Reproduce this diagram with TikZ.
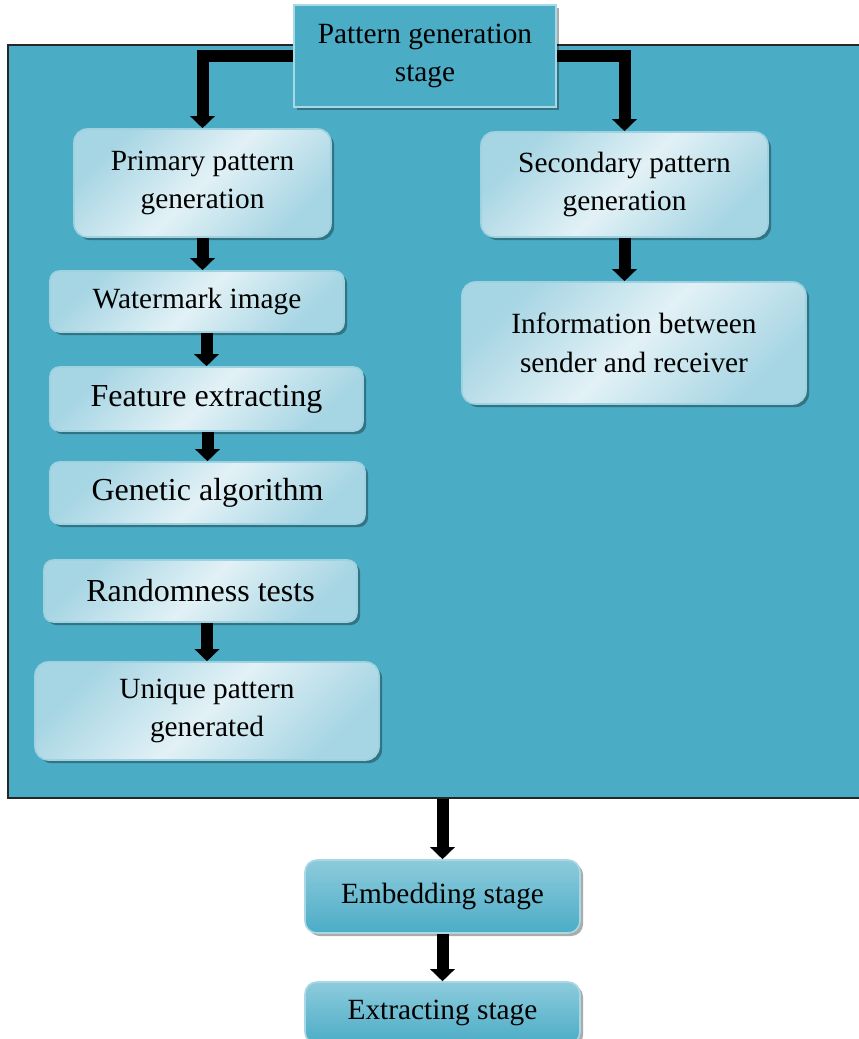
\documentclass[tikz,border=0pt]{standalone}
\usepackage{fontspec}
\setmainfont{Liberation Serif}
\usetikzlibrary{arrows.meta,shadows}
\definecolor{teal1}{HTML}{4BACC6}
\definecolor{tealhi}{HTML}{8DCBDC}
\definecolor{lite1}{HTML}{E2F1F6}
\definecolor{lite2}{HTML}{A6D5E3}
\definecolor{edge1}{HTML}{9ED2E1}
\definecolor{edge2}{HTML}{A8D8E6}
\tikzset{
  shad/.style={drop shadow={shadow xshift=2.3pt,shadow yshift=-2.3pt,fill=black,opacity=0.33}},
  txtA/.style={font=\fontsize{22}{29}\selectfont},
  txtB/.style={font=\fontsize{24}{30}\selectfont},
  lbox/.style={shad, draw=edge1, line width=1.2pt, rounded corners=10pt, inner sep=0pt,
    align=center, text=black, left color=lite2, right color=lite2, middle color=lite1, shading angle=45},
  tbox/.style={shad, draw=edge2, line width=1.2pt, rounded corners=9pt, inner sep=0pt,
    align=center, text=black, bottom color=teal1, top color=tealhi},
  topbox/.style={shad, draw=edge2, line width=1.6pt, fill=teal1, inner sep=0pt, align=center, text=black},
  panel/.style={draw=black!85, line width=0.9pt, fill=teal1, inner sep=0pt},
  arr/.style={line width=9pt, black, -{Triangle[width=18pt,length=9pt]}}
}
\begin{document}
\begin{tikzpicture}[x=0.75pt,y=-0.75pt]
\useasboundingbox (0,0) rectangle (859,1039);
\node[panel, minimum width=642pt, minimum height=564.75pt] (panel) at (436,421.5) {};

\node[topbox, txtA, minimum width=196.5pt, minimum height=76.5pt] (top) at (425,56) {Pattern generation\\stage};

\node[lbox, txtA, minimum width=192.75pt, minimum height=81pt] (prim) at (202.5,183) {Primary pattern\\generation};
\node[lbox, txtA, rounded corners=7pt, minimum width=220.5pt, minimum height=45.75pt] (wat) at (197,301.5) {Watermark image};
\node[lbox, txtB, rounded corners=7pt, minimum width=234.75pt, minimum height=48pt] (feat) at (206.5,399) {Feature extracting};
\node[lbox, txtB, rounded corners=7pt, minimum width=236.25pt, minimum height=46.5pt] (gen) at (207.5,493) {Genetic algorithm};
\node[lbox, txtB, rounded corners=7pt, minimum width=234.75pt, minimum height=46.5pt] (rand) at (200.5,591) {Randomness tests};
\node[lbox, txtA, minimum width=258pt, minimum height=73.5pt] (uniq) at (207,711) {Unique pattern\\generated};

\node[lbox, txtA, minimum width=215.25pt, minimum height=78.75pt] (sec) at (624.5,184.5) {Secondary pattern\\generation};
\node[lbox, txtA, minimum width=258pt, minimum height=91.5pt] (info) at (634,343) {Information between\\sender and receiver};

\node[tbox, txtA, minimum width=206.25pt, minimum height=54.75pt] (emb) at (442.5,896.5) {Embedding stage};
\node[tbox, txtA, minimum width=206.25pt, minimum height=46.5pt] (ext) at (442.5,1013) {Extracting stage};

\draw[arr] (top.west) -| (prim.north);
\draw[arr] (top.east) -| (sec.north);
\draw[arr] (prim.south) -- (prim.south |- wat.north);
\draw[arr] (feat.north |- wat.south) -- (feat.north);
\draw[arr] (gen.north |- feat.south) -- (gen.north);
\draw[arr] (uniq.north |- rand.south) -- (uniq.north);
\draw[arr] (sec.south) -- (sec.south |- info.north);
\draw[arr] (emb.north |- panel.south) -- (emb.north);
\draw[arr] (emb.south) -- (ext.north);
\end{tikzpicture}
\end{document}
